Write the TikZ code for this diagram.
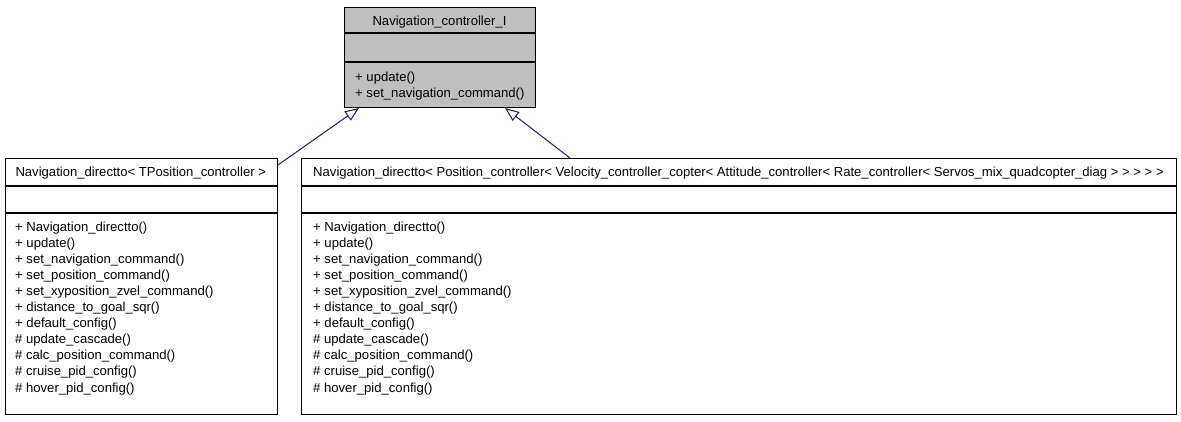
\documentclass[tikz,border=0pt]{standalone}
\usepackage{fontspec}
\setmainfont{Liberation Sans}
\usetikzlibrary{arrows.meta,calc}
\definecolor{navy}{HTML}{191970}
\definecolor{boxgray}{HTML}{BFBFBF}
\begin{document}
\begin{tikzpicture}[x=1pt,y=-1pt,
  box/.style={draw=black, line width=1pt, inner sep=0pt, anchor=north west},
  sep/.style={draw=black, line width=1.2pt},
  txt/.style={inner sep=0pt, font=\fontsize{13.1}{16}\selectfont},
  mem/.style={txt, anchor=base west},
  ttl/.style={txt, anchor=base},
  inh/.style={draw=navy, line width=1pt, -{Triangle[open, length=14pt, width=11pt]}}]
\useasboundingbox (0,0) rectangle (1181,421);
% boxes
\node[box, fill=boxgray, minimum width=191pt, minimum height=100pt] (top) at (344,7) {};
\node[box, fill=white, minimum width=272.5pt, minimum height=256pt] (lbox) at (4.5,158) {};
\node[box, fill=white, minimum width=875pt, minimum height=256pt] (rbox) at (301,158) {};
% separators
\draw[sep] ($(top.north west)+(0,26)$) -- ($(top.north east)+(0,26)$);
\draw[sep] ($(top.north west)+(0,55)$) -- ($(top.north east)+(0,55)$);
\draw[sep] ($(lbox.north west)+(0,28)$) -- ($(lbox.north east)+(0,28)$);
\draw[sep] ($(lbox.north west)+(0,55)$) -- ($(lbox.north east)+(0,55)$);
\draw[sep] ($(rbox.north west)+(0,28)$) -- ($(rbox.north east)+(0,28)$);
\draw[sep] ($(rbox.north west)+(0,55)$) -- ($(rbox.north east)+(0,55)$);
% top texts
\node[ttl] (ttop) at (439.5,25) {Navigation\_controller\_I};
\node[mem] (t1) at (355,81) {+ update()};
\node[mem] (t2) at (355,97) {+ set\_navigation\_command()};
% titles
\node[ttl] (tl) at (140.75,176) {Navigation\_directto< TPosition\_controller >};
\node[ttl] (tr) at (738.5,176) {Navigation\_directto< Position\_controller< Velocity\_controller\_copter< Attitude\_controller< Rate\_controller< Servos\_mix\_quadcopter\_diag > > > > >};
% members
\foreach \m [count=\i from 0] in {{+ Navigation\_directto()},{+ update()},{+ set\_navigation\_command()},{+ set\_position\_command()},{+ set\_xyposition\_zvel\_command()},{+ distance\_to\_goal\_sqr()},{+ default\_config()},{\# update\_cascade()},{\# calc\_position\_command()},{\# cruise\_pid\_config()},{\# hover\_pid\_config()}}{
  \node[mem] (l\i) at (15,231+16.1*\i) {\m};
  \node[mem] (r\i) at (313,231+16.1*\i) {\m};
}
% inheritance
\draw[inh] ($(lbox.north east)+(0,7)$) -- ($(top.south west)+(15,0)$);
\draw[inh] ($(rbox.north west)+(269,0)$) -- ($(top.south west)+(161,0)$);
\end{tikzpicture}
\end{document}
